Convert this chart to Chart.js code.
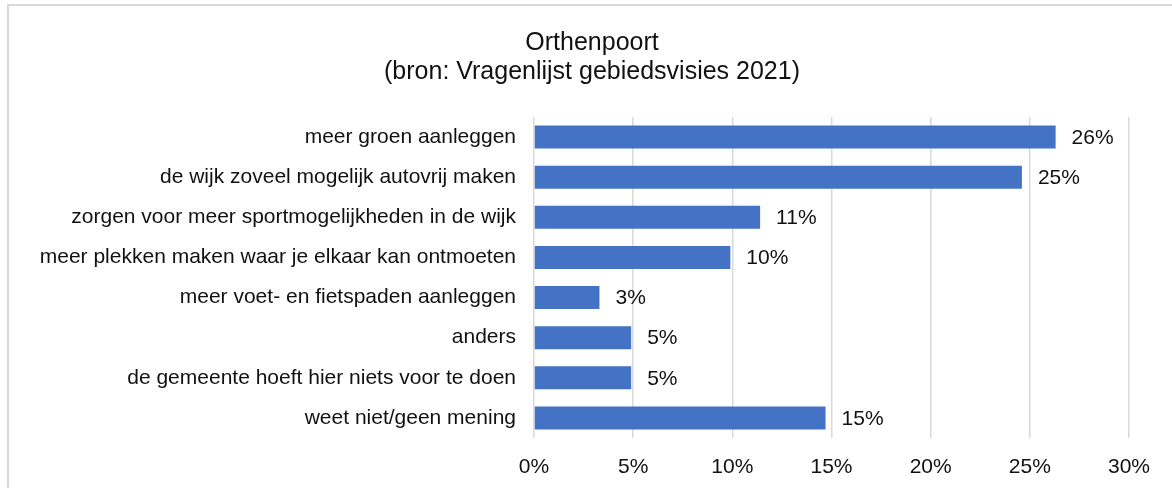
<!DOCTYPE html>
<html>
<head>
<meta charset="utf-8">
<script src="https://cdn.jsdelivr.net/npm/chart.js@4/dist/chart.umd.min.js"></script>
<style>
  html, body { margin: 0; padding: 0; background: #fff; overflow: hidden; }
  #frame { position: absolute; left: 7px; top: 4px; width: 1300px; height: 700px; border: 2px solid #d9d9d9; box-sizing: border-box; }
  #wrap { position: absolute; left: 0; top: 0; width: 1172px; height: 488px; }
</style>
</head>
<body>
<div id="frame"></div>
<div id="wrap"><canvas id="c" width="1172" height="488"></canvas></div>
<script>
const titleLines = ["Orthenpoort", "(bron: Vragenlijst gebiedsvisies 2021)"];
const categories = [
  "meer groen aanleggen",
  "de wijk zoveel mogelijk autovrij maken",
  "zorgen voor meer sportmogelijkheden in de wijk",
  "meer plekken maken waar je elkaar kan ontmoeten",
  "meer voet- en fietspaden aanleggen",
  "anders",
  "de gemeente hoeft hier niets voor te doen",
  "weet niet/geen mening"
];
const values = [26.3, 24.6, 11.4, 9.9, 3.3, 4.9, 4.9, 14.7];
const valueLabels = ["26%", "25%", "11%", "10%", "3%", "5%", "5%", "15%"];
const xTicks = [0, 5, 10, 15, 20, 25, 30];

const FONT = "'Liberation Sans', Arial, sans-serif";
const TXT = "#111111";

const dataLabels = {
  id: "dataLabels",
  afterDatasetsDraw(chart) {
    const ctx = chart.ctx;
    const meta = chart.getDatasetMeta(0);
    ctx.save();
    ctx.font = "21px " + FONT;
    ctx.fillStyle = TXT;
    ctx.textAlign = "left";
    ctx.textBaseline = "middle";
    meta.data.forEach((bar, i) => {
      ctx.fillText(valueLabels[i], bar.x + 16, bar.y + 1);
    });
    ctx.restore();
  }
};

const chartTitle = {
  id: "chartTitle",
  afterDraw(chart) {
    const ctx = chart.ctx;
    ctx.save();
    ctx.font = "25px " + FONT;
    ctx.fillStyle = TXT;
    ctx.textAlign = "center";
    ctx.textBaseline = "middle";
    titleLines.forEach((t, i) => ctx.fillText(t, 592, 43 + i * 29));
    ctx.restore();
  }
};

new Chart(document.getElementById("c"), {
  type: "bar",
  data: {
    labels: categories,
    datasets: [{
      data: values,
      backgroundColor: "#4472C4",
      borderWidth: 0,
      categoryPercentage: 1,
      barPercentage: 0.575
    }]
  },
  options: {
    indexAxis: "y",
    responsive: false,
    animation: false,
    events: [],
    layout: { padding: { left: 8, right: 43, top: 117, bottom: 0 } },
    plugins: {
      legend: { display: false },
      tooltip: { enabled: false },
      title: { display: false }
    },
    scales: {
      x: {
        min: 0,
        max: 30,
        afterBuildTicks(scale) { scale.ticks = xTicks.map(v => ({ value: v })); },
        afterFit(scale) { scale.height = 50; },
        ticks: {
          color: TXT,
          font: { family: FONT, size: 21 },
          padding: 17,
          callback: v => v + "%"
        },
        grid: { color: "#d9d9d9", lineWidth: 1.5, drawTicks: false },
        border: { display: false }
      },
      y: {
        afterFit(scale) { scale.width = 526; },
        ticks: {
          color: TXT,
          font: { family: FONT, size: 21 },
          padding: 18,
          autoSkip: false
        },
        grid: { display: false, drawTicks: false },
        border: { display: false }
      }
    }
  },
  plugins: [dataLabels, chartTitle]
});
</script>
</body>
</html>
